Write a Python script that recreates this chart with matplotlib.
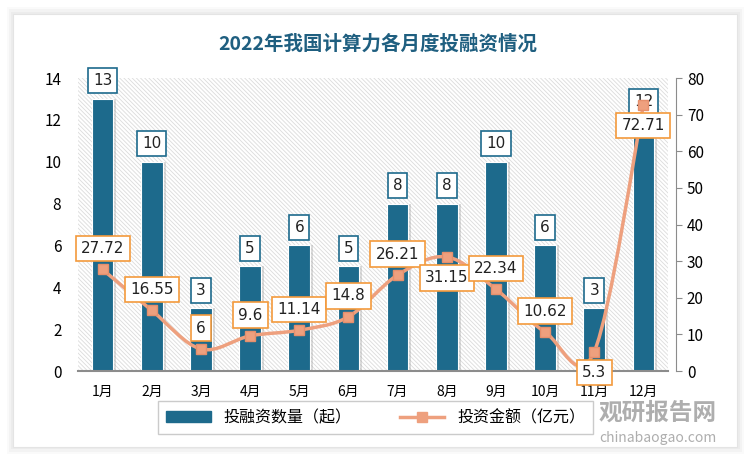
import matplotlib.pyplot as plt
import numpy as np
from matplotlib.patches import FancyBboxPatch, Rectangle, PathPatch
from matplotlib.path import Path
from matplotlib.lines import Line2D
from matplotlib.patches import Patch

plt.rcParams['font.family'] = ['Noto Sans CJK SC', 'DejaVu Sans']
plt.rcParams['hatch.linewidth'] = 0.6

months = ['1月', '2月', '3月', '4月', '5月', '6月', '7月', '8月', '9月', '10月', '11月', '12月']
counts = [13, 10, 3, 5, 6, 5, 8, 8, 10, 6, 3, 12]
amounts = [27.72, 16.55, 6, 9.6, 11.14, 14.8, 26.21, 31.15, 22.34, 10.62, 5.3, 72.71]
amount_labels = ['27.72', '16.55', '6', '9.6', '11.14', '14.8', '26.21', '31.15', '22.34', '10.62', '5.3', '72.71']
# label above (+1) or below (-1) the point
label_side = [1, 1, 1, 1, 1, 1, 1, -1, 1, 1, -1, -1]

bar_color = '#1d6a8c'
line_color = '#eea07e'
box_orange = '#f39a3c'

fig = plt.figure(figsize=(7.5, 4.61), dpi=100)
fig.patch.set_facecolor('white')

# card with soft shadow
for i, a in enumerate([0.04, 0.05, 0.06]):
    d = (3 - i) * 0.003
    fig.patches.append(FancyBboxPatch((0.018 - d, 0.03 - d * 1.6), 0.965 + 2 * d, 0.94 + 3.2 * d,
                                      boxstyle='square,pad=0', transform=fig.transFigure,
                                      facecolor='#808080', edgecolor='none', alpha=a, zorder=-2))
fig.patches.append(FancyBboxPatch((0.018, 0.03), 0.965, 0.94, boxstyle='square,pad=0',
                                  transform=fig.transFigure, facecolor='white',
                                  edgecolor='#e4e4e4', lw=0.8, zorder=-1))

ax = fig.add_axes([0.104, 0.1952, 0.7867, 0.6356])
ax.set_facecolor('none')
x = np.arange(len(months))

# hatched background
ax.add_patch(Rectangle((0, 0), 1, 1, transform=ax.transAxes, facecolor='white',
                       edgecolor='#dcdcdc', hatch='\\\\\\\\\\\\\\\\', lw=0, zorder=0))

# bar shadows then bars
ax.bar(x + 0.06, counts, width=0.44, color='#9a9a9a', alpha=0.35, zorder=1)
ax.bar(x, counts, width=0.44, color=bar_color, edgecolor='white', lw=0.8, zorder=2)
for xi, c in zip(x, counts):
    ax.annotate(str(c), (xi, c), xytext=(0, 13), textcoords='offset points',
                ha='center', va='center', fontsize=11, color='#222222', zorder=6,
                family=['DejaVu Sans'],
                bbox=dict(boxstyle='square,pad=0.33', fc='white', ec=bar_color, lw=1.2))

ax.set_xlim(-0.5, len(months) - 0.5)
ax.set_ylim(0, 14)
ax.set_yticks(range(0, 15, 2))
ax.set_xticks(x)
ax.set_xticklabels(months)
for s in ['top', 'right', 'left']:
    ax.spines[s].set_visible(False)
ax.spines['bottom'].set_color('#8c8c8c')
ax.spines['bottom'].set_linewidth(1.5)
ax.tick_params(axis='y', length=0, labelsize=11, pad=12)
ax.tick_params(axis='x', length=0, labelsize=10, pad=10)

ax2 = ax.twinx()
ax2.set_ylim(0, 80)
ax2.set_yticks(range(0, 81, 10))
for s in ['top', 'left', 'bottom']:
    ax2.spines[s].set_visible(False)
ax2.spines['right'].set_color('#8c8c8c')
ax2.spines['right'].set_position(('outward', 6))
ax2.tick_params(axis='y', labelsize=11, length=4, color='#8c8c8c')

# smooth line (Catmull-Rom -> cubic Bezier) through the data points
px = np.array(x, dtype=float)
py = np.array(amounts, dtype=float)
verts = [(px[0], py[0])]
codes = [Path.MOVETO]
n = len(px)
for i in range(n - 1):
    p0 = (px[max(i - 1, 0)], py[max(i - 1, 0)])
    p1 = (px[i], py[i])
    p2 = (px[i + 1], py[i + 1])
    p3 = (px[min(i + 2, n - 1)], py[min(i + 2, n - 1)])
    t = 1 / 6
    c1 = (p1[0] + (p2[0] - p0[0]) * t, p1[1] + (p2[1] - p0[1]) * t)
    c2 = (p2[0] - (p3[0] - p1[0]) * t, p2[1] - (p3[1] - p1[1]) * t)
    verts += [c1, c2, p2]
    codes += [Path.CURVE4] * 3
ax2.add_patch(PathPatch(Path(verts, codes), fill=False, ec=line_color, lw=2.5, zorder=3))
ax2.plot(px, py, ls='none', marker='s', ms=7, color=line_color, mec='#e58f6c', zorder=4)

for xi, v, lab, side in zip(px, py, amount_labels, label_side):
    ax2.annotate(lab, (xi, v), xytext=(0, 15 * side), textcoords='offset points',
                 ha='center', va='center', fontsize=11, color='#222222', zorder=7,
                 family=['DejaVu Sans'],
                 bbox=dict(boxstyle='square,pad=0.35', fc='white', ec=box_orange, lw=1.2))

fig.text(0.504, 0.905, '2022年我国计算力各月度投融资情况', ha='center', va='center',
         fontsize=14, fontweight='bold', color='#1f5f80')

handles = [Patch(color=bar_color, label='投融资数量（起）'),
           Line2D([0], [0], color=line_color, lw=2.5, marker='s', ms=7, label='投资金额（亿元）')]
leg = fig.legend(handles=handles, loc='center', bbox_to_anchor=(0.501, 0.094), ncol=2,
                 fontsize=11.5, frameon=True, fancybox=False, edgecolor='#bfbfbf',
                 handlelength=2.8, columnspacing=3.0, borderpad=0.5)
leg.get_frame().set_linewidth(1.0)

# watermark
fig.text(0.955, 0.105, '观研报告网', ha='right', va='center', fontsize=17,
         fontweight='bold', color='#9a9a9a', alpha=0.8)
fig.text(0.955, 0.05, 'chinabaogao.com', ha='right', va='center', fontsize=10,
         color='#9a9a9a', alpha=0.8)

fig.savefig('out.png', dpi=100)
